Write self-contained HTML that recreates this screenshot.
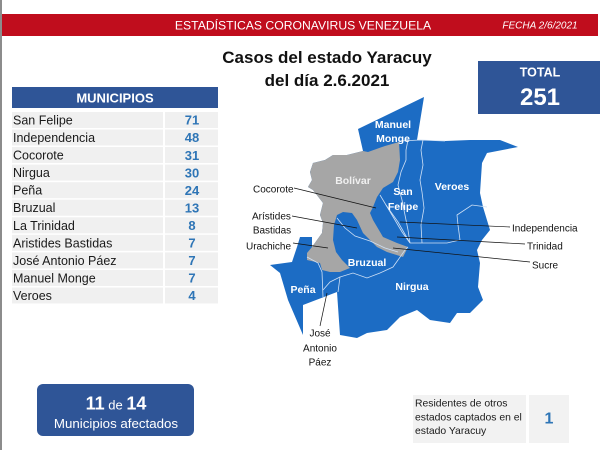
<!DOCTYPE html>
<html>
<head>
<meta charset="utf-8">
<style>
html,body{margin:0;padding:0;background:#fff;}
body{width:600px;height:450px;overflow:hidden;}
svg{display:block;font-family:"Liberation Sans",Arial,sans-serif;}
</style>
</head>
<body>
<svg width="600" height="450" viewBox="0 0 600 450" xmlns="http://www.w3.org/2000/svg">
<rect width="600" height="450" fill="#fff"/>
<rect x="0" y="0" width="2" height="450" fill="#8c8c8c"/>
<!-- header bar -->
<rect x="2" y="14" width="596" height="22" fill="#c00d1d"/>
<text x="303" y="29.4" font-size="12.2" fill="#fff" text-anchor="middle">ESTADÍSTICAS CORONAVIRUS VENEZUELA</text>
<text x="540" y="28.6" font-size="10" font-style="italic" fill="#fff" text-anchor="middle">FECHA 2/6/2021</text>

<!-- title -->
<text x="327" y="63" font-size="17" font-weight="bold" fill="#111" text-anchor="middle">Casos del estado Yaracuy</text>
<text x="327" y="86" font-size="17" font-weight="bold" fill="#111" text-anchor="middle">del día 2.6.2021</text>

<!-- total box -->
<rect x="478" y="61" width="122" height="53" fill="#2f5597"/>
<text x="540" y="76.5" font-size="12.5" font-weight="bold" fill="#fff" text-anchor="middle">TOTAL</text>
<text x="540" y="105" font-size="24" font-weight="bold" fill="#fff" text-anchor="middle">251</text>

<!-- table -->
<rect x="12" y="87" width="206" height="21" fill="#2f5597"/>
<text x="115" y="102.3" font-size="13" font-weight="bold" fill="#fff" text-anchor="middle">MUNICIPIOS</text>
<g fill="#f0f0f0">
<rect x="12" y="112" width="151" height="16"/><rect x="165" y="112" width="53" height="16"/>
<rect x="12" y="129.5" width="151" height="16"/><rect x="165" y="129.5" width="53" height="16"/>
<rect x="12" y="147" width="151" height="16"/><rect x="165" y="147" width="53" height="16"/>
<rect x="12" y="164.6" width="151" height="16"/><rect x="165" y="164.6" width="53" height="16"/>
<rect x="12" y="182.2" width="151" height="16"/><rect x="165" y="182.2" width="53" height="16"/>
<rect x="12" y="199.7" width="151" height="16"/><rect x="165" y="199.7" width="53" height="16"/>
<rect x="12" y="217.3" width="151" height="16"/><rect x="165" y="217.3" width="53" height="16"/>
<rect x="12" y="234.8" width="151" height="16"/><rect x="165" y="234.8" width="53" height="16"/>
<rect x="12" y="252.4" width="151" height="16"/><rect x="165" y="252.4" width="53" height="16"/>
<rect x="12" y="270" width="151" height="16"/><rect x="165" y="270" width="53" height="16"/>
<rect x="12" y="287.5" width="151" height="16"/><rect x="165" y="287.5" width="53" height="16"/>
</g>
<g font-size="12.5" fill="#1a1a1a">
<text x="13" y="124.5">San Felipe</text>
<text x="13" y="142">Independencia</text>
<text x="13" y="159.6">Cocorote</text>
<text x="13" y="177.1">Nirgua</text>
<text x="13" y="194.7">Peña</text>
<text x="13" y="212.2">Bruzual</text>
<text x="13" y="229.8">La Trinidad</text>
<text x="13" y="247.3">Aristides Bastidas</text>
<text x="13" y="264.9">José Antonio Páez</text>
<text x="13" y="282.4">Manuel Monge</text>
<text x="13" y="300">Veroes</text>
</g>
<g font-size="13" font-weight="bold" fill="#2e75b6" text-anchor="middle">
<text x="192" y="124.7">71</text>
<text x="192" y="142.2">48</text>
<text x="192" y="159.8">31</text>
<text x="192" y="177.3">30</text>
<text x="192" y="194.9">24</text>
<text x="192" y="212.4">13</text>
<text x="192" y="230">8</text>
<text x="192" y="247.5">7</text>
<text x="192" y="265.1">7</text>
<text x="192" y="282.6">7</text>
<text x="192" y="300.2">4</text>
</g>

<!-- map -->
<polygon fill="#1c6cc4" points="424,97 417,140 445,141 470,140 500,140 518,147 487,153 482,163 480,193 483,207 490,230 482,240 477,250 480,263 478,287 483,300 470,313 457,313 450,323 430,320 417,310 400,317 387,330 367,333 357,338 340,335 337,292 303,305 303,335 288,300 280,273 270,265 292,262 297,247 300,237 312,237 312,247 317,240 322,233 323,223 320,215 323,203 313,190 308,187 312,180 310,172 313,163 325,160 333,155 347,155 363,151 358,129"/>
<polygon fill="#a6a6a6" points="347,155 363,151 368,152 385,146 399,142 400,160 398,172 393,182 383,188 377,197 373,207 370,213 373,220 383,237 397,243 408,247 403,257 387,252 377,247 363,233 357,220 352,213 343,212 337,215 334,225 333,240 336,252 342,260 350,268 340,272 330,272 322,270 320,263 307,260 307,253 312,247 317,240 322,233 323,223 320,215 323,203 313,190 308,187 312,180 310,172 313,163 325,160 333,155"/>
<g fill="none" stroke="#cfe0f5" stroke-width="0.8">
<polyline points="400,141 420,140 445,141"/>
<polyline points="408,140 406,150 406,160 401,172 398,185 402,200 405,215 408,230 410,243"/>
<polyline points="423,140 421,150 423,165 420,180 422,192 424,208 421,225 422,243"/>
<polyline points="487,207 472,205 457,215 458,225 460,240 447,243 422,243 410,243"/>
<polyline points="380,195 392,215 402,232 410,243"/>
<polyline points="386,205 398,222 410,243"/>
<polyline points="408,247 405,250 398,260 393,267 380,273 367,278 353,273 340,277 338,292"/>
<polyline points="337,218 345,228 355,236 370,241 385,248 398,252"/>
<polyline points="307,257 318,263 322,272 323,297"/>
<polyline points="340,277 330,282 323,290"/>
</g>
<g stroke="#111" stroke-width="0.7" fill="none">
<line x1="294" y1="188" x2="376" y2="208"/>
<line x1="292" y1="216" x2="357" y2="228"/>
<line x1="293" y1="243" x2="328" y2="248"/>
<line x1="400" y1="222" x2="510" y2="227"/>
<line x1="397" y1="237" x2="525" y2="244"/>
<line x1="393" y1="248" x2="530" y2="262"/>
<line x1="327" y1="293" x2="320" y2="326"/>
</g>
<g font-size="10.5" font-weight="bold" fill="#fff" text-anchor="middle">
<text x="393" y="128">Manuel</text>
<text x="393" y="142">Monge</text>
<text x="353" y="184" fill="#f0f0f0">Bolívar</text>
<text x="403" y="195">San</text>
<text x="403" y="210">Felipe</text>
<text x="452" y="190">Veroes</text>
<text x="367" y="266">Bruzual</text>
<text x="303" y="293">Peña</text>
<text x="412" y="290">Nirgua</text>
</g>
<g font-size="10" fill="#111">
<text x="253" y="192.5">Cocorote</text>
<text x="252" y="219.5">Arístides</text>
<text x="272" y="233.5" text-anchor="middle">Bastidas</text>
<text x="246" y="249.5">Urachiche</text>
<text x="512" y="231.5">Independencia</text>
<text x="527" y="249.5">Trinidad</text>
<text x="532" y="268.5">Sucre</text>
<text x="320" y="336.5" text-anchor="middle">José</text>
<text x="320" y="351.5" text-anchor="middle">Antonio</text>
<text x="320" y="365.5" text-anchor="middle">Páez</text>
</g>

<!-- bottom left box -->
<rect x="37" y="384" width="157" height="52" rx="6" ry="6" fill="#2f5597"/>
<text x="116" y="409.5" fill="#fff" text-anchor="middle"><tspan font-size="18" font-weight="bold">11</tspan><tspan font-size="13"> de </tspan><tspan font-size="18" font-weight="bold">14</tspan></text>
<text x="116" y="428" font-size="13.3" fill="#fff" text-anchor="middle">Municipios afectados</text>

<!-- bottom right -->
<rect x="413" y="395" width="113" height="48" fill="#f2f2f2"/>
<rect x="529" y="395" width="40" height="48" fill="#f2f2f2"/>
<g font-size="10.4" fill="#1a1a1a">
<text x="415" y="406.7">Residentes de otros</text>
<text x="415" y="420.5">estados captados en el</text>
<text x="415" y="434">estado Yaracuy</text>
</g>
<text x="549" y="423.5" font-size="16" font-weight="bold" fill="#2e75b6" text-anchor="middle">1</text>
</svg>
</body>
</html>
